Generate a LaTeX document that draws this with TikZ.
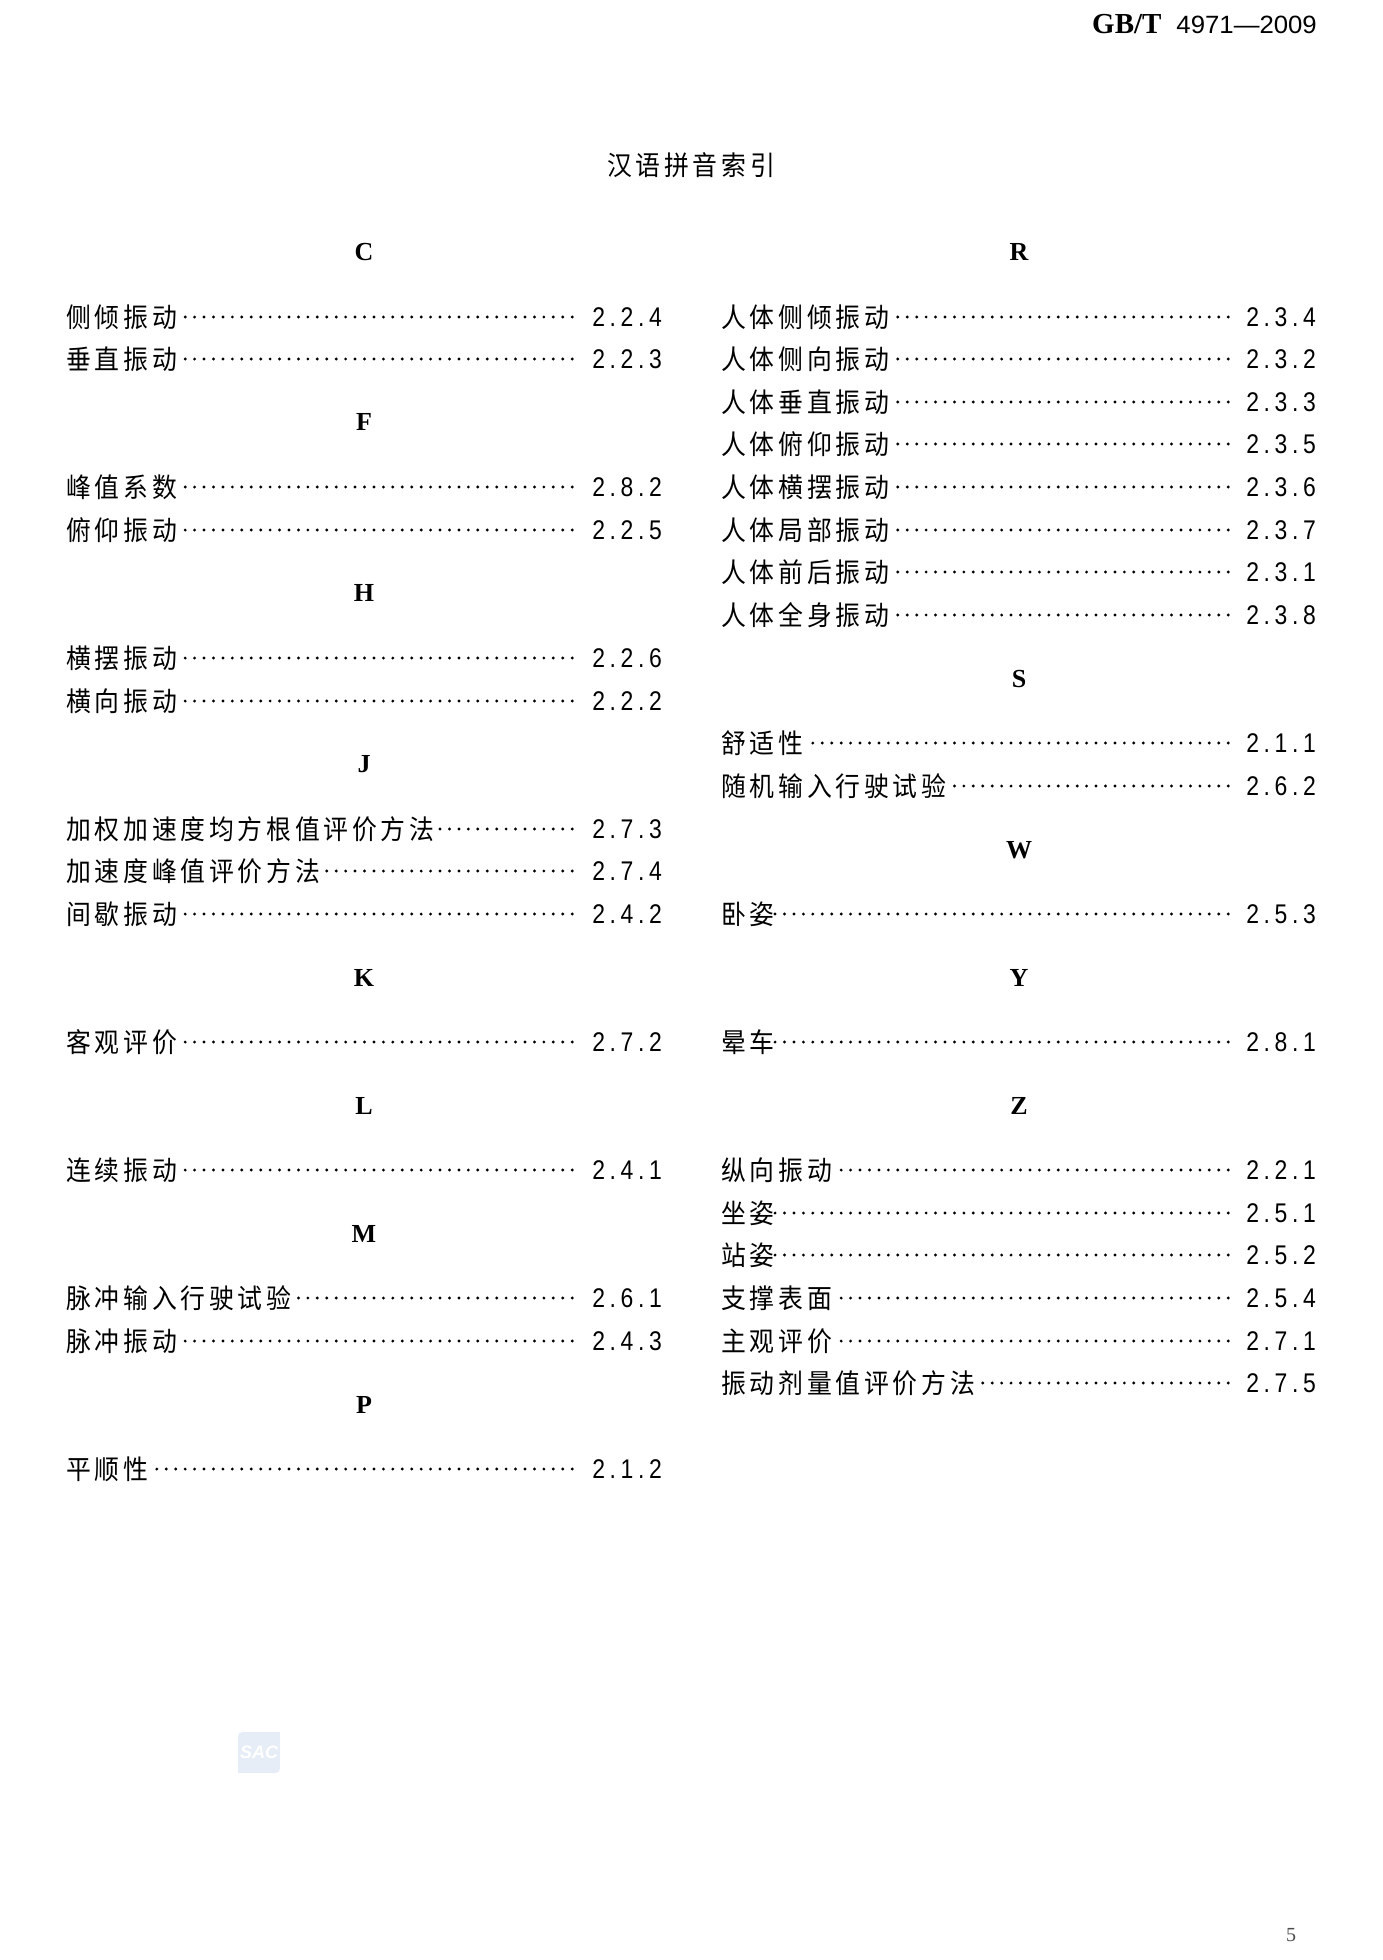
\documentclass[tikz,border=0pt]{standalone}
\usepackage{fontspec}
\setmainfont{Liberation Serif}
\newfontfamily\cjkfont[FakeStretch=0.92,LetterSpace=14]{Noto Sans CJK SC}
\newfontfamily\numfont[FakeStretch=0.85,LetterSpace=17]{Liberation Sans}
\newfontfamily\stdfont[FakeStretch=1.03]{Liberation Sans}
\newfontfamily\sacfont{Liberation Sans}
\definecolor{sacblue}{HTML}{E6EDF7}
\tikzset{
    entry/.style={inner sep=0pt,anchor=base west,yshift=-1pt,font=\fontsize{27}{27}\selectfont\cjkfont},
    num/.style={inner sep=0pt,anchor=base east,font=\fontsize{27}{27}\selectfont\numfont},
    letter/.style={inner sep=0pt,anchor=base,font=\fontsize{26}{26}\selectfont\bfseries},
    leader/.style={line width=3.2pt,line cap=round,dash pattern=on 0pt off 9.44pt}
}
\begin{document}
\begin{tikzpicture}[x=1pt,y=-1pt]
    \useasboundingbox (0,0) rectangle (1382,1960);
    % page head
    \node[inner sep=0pt,anchor=base west,font=\fontsize{29}{29}\selectfont\bfseries] (std) at (1092,33) {GB/T};
    \node[inner sep=0pt,anchor=base east,font=\fontsize{25}{25}\selectfont\stdfont] (stdno) at (1317,33) {4971—2009};
    \node[inner sep=0pt,anchor=base,font=\fontsize{27}{27}\selectfont\cjkfont] (title) at (691,175) {汉语拼音索引};
    % left column
    \foreach \name/\txt/\y in {C/C/260,F/F/430,H/H/601,J/J/772,K/K/986,L/L/1114,M/M/1242,P/P/1413}
        \node[letter] (\name) at (364,\y) {\txt};
    \foreach \i/\txt/\n/\y in {
        a/侧倾振动/2.2.4/326, b/垂直振动/2.2.3/368,
        c/峰值系数/2.8.2/496, d/俯仰振动/2.2.5/539,
        e/横摆振动/2.2.6/667, f/横向振动/2.2.2/710,
        g/加权加速度均方根值评价方法/2.7.3/838, h/加速度峰值评价方法/2.7.4/880, i/间歇振动/2.4.2/923,
        j/客观评价/2.7.2/1051,
        k/连续振动/2.4.1/1179,
        l/脉冲输入行驶试验/2.6.1/1307, m/脉冲振动/2.4.3/1350,
        n/平顺性/2.1.2/1478}{
        \node[entry] (t\i) at (66,\y) {\txt};
        \node[num] (n\i) at (662,\y) {\n};
        \draw[leader] ([xshift=-20pt,yshift=9pt]n\i.base west) -- ([xshift=0pt,yshift=10pt]t\i.base east);
    }
    % right column
    \foreach \name/\txt/\y in {R/R/260,S/S/687,W/W/858,Y/Y/986,Z/Z/1114}
        \node[letter] (\name) at (1019,\y) {\txt};
    \foreach \i/\txt/\n/\y in {
        a/人体侧倾振动/2.3.4/326, b/人体侧向振动/2.3.2/368, c/人体垂直振动/2.3.3/411, d/人体俯仰振动/2.3.5/453,
        e/人体横摆振动/2.3.6/496, f/人体局部振动/2.3.7/539, g/人体前后振动/2.3.1/581, h/人体全身振动/2.3.8/624,
        i/舒适性/2.1.1/752, j/随机输入行驶试验/2.6.2/795,
        k/卧姿/2.5.3/923,
        l/晕车/2.8.1/1051,
        m/纵向振动/2.2.1/1179, n/坐姿/2.5.1/1222, o/站姿/2.5.2/1264, p/支撑表面/2.5.4/1307,
        q/主观评价/2.7.1/1350, r/振动剂量值评价方法/2.7.5/1392}{
        \node[entry] (u\i) at (721,\y) {\txt};
        \node[num] (m\i) at (1316,\y) {\n};
        \draw[leader] ([xshift=-18pt,yshift=9pt]m\i.base west) -- ([xshift=0pt,yshift=10pt]u\i.base east);
    }
    % watermark
    \fill[sacblue] (238,1773) -- (238,1742) .. controls (238,1732) .. (248,1732) -- (280,1732) -- (280,1763) .. controls (280,1773) .. (270,1773) -- cycle;
    \node[inner sep=0pt,text=white,font=\fontsize{18}{18}\selectfont\sacfont\bfseries\itshape] (sac) at (259,1752) {SAC};
    \node[inner sep=0pt,anchor=base,text=black!70,font=\fontsize{20}{20}\selectfont] (page) at (1291,1941) {5};
\end{tikzpicture}
\end{document}
